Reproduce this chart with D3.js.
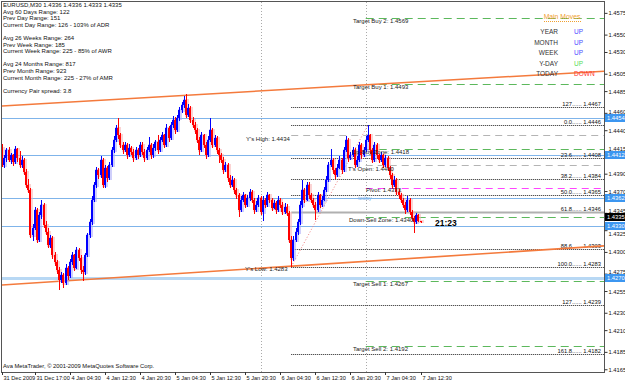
<!DOCTYPE html>
<html>
<head>
<meta charset="utf-8">
<script src="https://cdn.jsdelivr.net/npm/d3@7"></script>
<style>
  body { margin: 0; background: #fff; }
  svg text { font-family: "Liberation Sans", Arial, sans-serif; }
</style>
</head>
<body>
<div id="chart"></div>
<script>
// ---- candles, EURUSD M30 ----
var opens = [
  1.4419, 1.4400, 1.4408, 1.4417, 1.4406, 1.4411, 1.4403, 1.4418, 1.4408, 1.4400,
  1.4406, 1.4392, 1.4377, 1.4371, 1.4319, 1.4328, 1.4348, 1.4314, 1.4342, 1.4354,
  1.4331, 1.4323, 1.4308, 1.4316, 1.4296, 1.4288, 1.4279, 1.4268, 1.4273, 1.4264,
  1.4282, 1.4272, 1.4288, 1.4296, 1.4282, 1.4302, 1.4293, 1.4279, 1.4277, 1.4296,
  1.4319, 1.4334, 1.4360, 1.4377, 1.4394, 1.4388, 1.4406, 1.4377, 1.4397, 1.4385,
  1.4400, 1.4417, 1.4429, 1.4443, 1.4434, 1.4423, 1.4417, 1.4423, 1.4411, 1.4420,
  1.4415, 1.4408, 1.4417, 1.4411, 1.4423, 1.4415, 1.4408, 1.4417, 1.4423, 1.4411,
  1.4420, 1.4426, 1.4417, 1.4429, 1.4434, 1.4423, 1.4443, 1.4431, 1.4446, 1.4452,
  1.4440, 1.4454, 1.4463, 1.4469, 1.4475, 1.4458, 1.4466, 1.4452, 1.4446, 1.4440,
  1.4429, 1.4417, 1.4434, 1.4423, 1.4411, 1.4429, 1.4440, 1.4423, 1.4431, 1.4417,
  1.4411, 1.4406, 1.4394, 1.4400, 1.4385, 1.4377, 1.4383, 1.4371, 1.4365, 1.4348,
  1.4360, 1.4365, 1.4354, 1.4362, 1.4369, 1.4360, 1.4348, 1.4354, 1.4362, 1.4346,
  1.4360, 1.4354, 1.4365, 1.4360, 1.4351, 1.4356, 1.4348, 1.4360, 1.4354, 1.4346,
  1.4352, 1.4345, 1.4314, 1.4293, 1.4314, 1.4323, 1.4334, 1.4354, 1.4371, 1.4360,
  1.4377, 1.4365, 1.4360, 1.4354, 1.4348, 1.4365, 1.4354, 1.4360, 1.4371, 1.4383,
  1.4400, 1.4406, 1.4394, 1.4388, 1.4397, 1.4406, 1.4394, 1.4417, 1.4429, 1.4408,
  1.4411, 1.4417, 1.4400, 1.4406, 1.4423, 1.4411, 1.4417, 1.4429, 1.4434, 1.4417,
  1.4406, 1.4423, 1.4411, 1.4406, 1.4411, 1.4400, 1.4408, 1.4397, 1.4388, 1.4377,
  1.4383, 1.4369, 1.4365, 1.4360, 1.4354, 1.4348, 1.4360, 1.4346, 1.4339, 1.4334,
  1.4342, 1.4336
];
var highs = [
  1.4424, 1.4412, 1.4420, 1.4421, 1.4414, 1.4413, 1.4422, 1.4420, 1.4416, 1.4410,
  1.4408, 1.4395, 1.4384, 1.4373, 1.4332, 1.4352, 1.4350, 1.4346, 1.4360, 1.4356,
  1.4336, 1.4328, 1.4320, 1.4318, 1.4300, 1.4291, 1.4283, 1.4277, 1.4276, 1.4286,
  1.4284, 1.4292, 1.4300, 1.4298, 1.4306, 1.4304, 1.4296, 1.4284, 1.4299, 1.4322,
  1.4338, 1.4364, 1.4381, 1.4398, 1.4397, 1.4410, 1.4408, 1.4400, 1.4399, 1.4404,
  1.4421, 1.4433, 1.4446, 1.4454, 1.4437, 1.4426, 1.4427, 1.4425, 1.4424, 1.4422,
  1.4418, 1.4421, 1.4419, 1.4427, 1.4426, 1.4418, 1.4421, 1.4432, 1.4425, 1.4424,
  1.4429, 1.4435, 1.4432, 1.4438, 1.4436, 1.4447, 1.4445, 1.4450, 1.4456, 1.4455,
  1.4458, 1.4467, 1.4473, 1.4479, 1.4482, 1.4470, 1.4468, 1.4455, 1.4449, 1.4443,
  1.4432, 1.4438, 1.4436, 1.4426, 1.4433, 1.4454, 1.4443, 1.4435, 1.4433, 1.4420,
  1.4414, 1.4409, 1.4404, 1.4402, 1.4388, 1.4387, 1.4385, 1.4374, 1.4368, 1.4364,
  1.4369, 1.4367, 1.4366, 1.4372, 1.4371, 1.4362, 1.4358, 1.4366, 1.4364, 1.4364,
  1.4362, 1.4369, 1.4367, 1.4362, 1.4360, 1.4358, 1.4364, 1.4362, 1.4357, 1.4356,
  1.4355, 1.4347, 1.4318, 1.4318, 1.4327, 1.4338, 1.4358, 1.4383, 1.4374, 1.4381,
  1.4380, 1.4368, 1.4362, 1.4357, 1.4369, 1.4367, 1.4364, 1.4375, 1.4387, 1.4404,
  1.4418, 1.4408, 1.4397, 1.4401, 1.4410, 1.4408, 1.4421, 1.4433, 1.4431, 1.4415,
  1.4421, 1.4419, 1.4410, 1.4427, 1.4425, 1.4421, 1.4433, 1.4446, 1.4436, 1.4419,
  1.4427, 1.4425, 1.4413, 1.4415, 1.4413, 1.4412, 1.4410, 1.4399, 1.4391, 1.4387,
  1.4385, 1.4372, 1.4368, 1.4362, 1.4357, 1.4364, 1.4362, 1.4348, 1.4341, 1.4345,
  1.4344, 1.4336
];
var lows = [
  1.4398, 1.4396, 1.4404, 1.4403, 1.4401, 1.4399, 1.4401, 1.4404, 1.4397, 1.4396,
  1.4388, 1.4374, 1.4368, 1.4316, 1.4312, 1.4325, 1.4310, 1.4311, 1.4338, 1.4327,
  1.4319, 1.4304, 1.4305, 1.4292, 1.4284, 1.4275, 1.4256, 1.4264, 1.4259, 1.4262,
  1.4268, 1.4270, 1.4285, 1.4278, 1.4280, 1.4289, 1.4275, 1.4267, 1.4274, 1.4294,
  1.4316, 1.4331, 1.4357, 1.4373, 1.4384, 1.4385, 1.4373, 1.4374, 1.4381, 1.4383,
  1.4398, 1.4414, 1.4426, 1.4430, 1.4419, 1.4413, 1.4415, 1.4407, 1.4409, 1.4411,
  1.4404, 1.4406, 1.4407, 1.4409, 1.4411, 1.4404, 1.4406, 1.4415, 1.4407, 1.4408,
  1.4416, 1.4413, 1.4415, 1.4426, 1.4419, 1.4421, 1.4427, 1.4429, 1.4443, 1.4436,
  1.4438, 1.4451, 1.4460, 1.4465, 1.4454, 1.4455, 1.4448, 1.4442, 1.4436, 1.4425,
  1.4411, 1.4415, 1.4419, 1.4407, 1.4409, 1.4427, 1.4419, 1.4421, 1.4413, 1.4402,
  1.4402, 1.4390, 1.4392, 1.4381, 1.4373, 1.4375, 1.4367, 1.4361, 1.4340, 1.4346,
  1.4357, 1.4350, 1.4352, 1.4359, 1.4356, 1.4344, 1.4346, 1.4352, 1.4342, 1.4336,
  1.4350, 1.4352, 1.4356, 1.4347, 1.4349, 1.4344, 1.4346, 1.4350, 1.4342, 1.4344,
  1.4341, 1.4310, 1.4283, 1.4290, 1.4311, 1.4320, 1.4331, 1.4351, 1.4356, 1.4358,
  1.4361, 1.4356, 1.4350, 1.4337, 1.4346, 1.4350, 1.4352, 1.4358, 1.4369, 1.4381,
  1.4398, 1.4390, 1.4384, 1.4386, 1.4395, 1.4390, 1.4392, 1.4415, 1.4404, 1.4406,
  1.4409, 1.4396, 1.4398, 1.4404, 1.4407, 1.4409, 1.4415, 1.4426, 1.4413, 1.4402,
  1.4404, 1.4407, 1.4402, 1.4404, 1.4396, 1.4398, 1.4393, 1.4384, 1.4373, 1.4375,
  1.4365, 1.4361, 1.4356, 1.4350, 1.4344, 1.4346, 1.4342, 1.4335, 1.4322, 1.4332,
  1.4334, 1.4333
];
var closes = [
  1.4400, 1.4408, 1.4417, 1.4406, 1.4411, 1.4403, 1.4418, 1.4408, 1.4400, 1.4406,
  1.4392, 1.4377, 1.4371, 1.4319, 1.4328, 1.4348, 1.4314, 1.4342, 1.4354, 1.4331,
  1.4323, 1.4308, 1.4316, 1.4296, 1.4288, 1.4279, 1.4268, 1.4273, 1.4264, 1.4282,
  1.4272, 1.4288, 1.4296, 1.4282, 1.4302, 1.4293, 1.4279, 1.4277, 1.4296, 1.4319,
  1.4334, 1.4360, 1.4377, 1.4394, 1.4388, 1.4406, 1.4377, 1.4397, 1.4385, 1.4400,
  1.4417, 1.4429, 1.4443, 1.4434, 1.4423, 1.4417, 1.4423, 1.4411, 1.4420, 1.4415,
  1.4408, 1.4417, 1.4411, 1.4423, 1.4415, 1.4408, 1.4417, 1.4423, 1.4411, 1.4420,
  1.4426, 1.4417, 1.4429, 1.4434, 1.4423, 1.4443, 1.4431, 1.4446, 1.4452, 1.4440,
  1.4454, 1.4463, 1.4469, 1.4475, 1.4458, 1.4466, 1.4452, 1.4446, 1.4440, 1.4429,
  1.4417, 1.4434, 1.4423, 1.4411, 1.4429, 1.4440, 1.4423, 1.4431, 1.4417, 1.4411,
  1.4406, 1.4394, 1.4400, 1.4385, 1.4377, 1.4383, 1.4371, 1.4365, 1.4348, 1.4360,
  1.4365, 1.4354, 1.4362, 1.4369, 1.4360, 1.4348, 1.4354, 1.4362, 1.4346, 1.4360,
  1.4354, 1.4365, 1.4360, 1.4351, 1.4356, 1.4348, 1.4360, 1.4354, 1.4346, 1.4352,
  1.4345, 1.4314, 1.4293, 1.4314, 1.4323, 1.4334, 1.4354, 1.4371, 1.4360, 1.4377,
  1.4365, 1.4360, 1.4354, 1.4348, 1.4365, 1.4354, 1.4360, 1.4371, 1.4383, 1.4400,
  1.4406, 1.4394, 1.4388, 1.4397, 1.4406, 1.4394, 1.4417, 1.4429, 1.4408, 1.4411,
  1.4417, 1.4400, 1.4406, 1.4423, 1.4411, 1.4417, 1.4429, 1.4434, 1.4417, 1.4406,
  1.4423, 1.4411, 1.4406, 1.4411, 1.4400, 1.4408, 1.4397, 1.4388, 1.4377, 1.4383,
  1.4369, 1.4365, 1.4360, 1.4354, 1.4348, 1.4360, 1.4346, 1.4339, 1.4334, 1.4342,
  1.4336, 1.4335
];

var timeLabels = ["31 Dec 2009", "31 Dec 17:00", "4 Jan 04:30", "4 Jan 12:30", "4 Jan 20:30",
  "5 Jan 04:30", "5 Jan 12:30", "5 Jan 20:30", "6 Jan 04:30", "6 Jan 12:30",
  "6 Jan 20:30", "7 Jan 04:30", "7 Jan 12:30"];
var timeLabelBars = [0, 15, 31, 47, 63, 79, 95, 111, 127, 143, 159, 175, 191];
var daySeparators = [118, 166];

var priceTicks = [1.4575, 1.4550, 1.4530, 1.4505, 1.4485, 1.4460, 1.4440, 1.4415, 1.4390,
  1.4370, 1.4345, 1.4325, 1.4300, 1.4275, 1.4255, 1.4230, 1.4210, 1.4185, 1.4165];

var blueLevels = [1.4454, 1.4412, 1.4362, 1.4330, 1.4270];
var fibNames = ["127", "0.0", "23.6", "38.2", "50.0", "61.8", "88.6", "100.0", "127", "161.8"];
var fibValues = [1.4467, 1.4446, 1.4408, 1.4384, 1.4365, 1.4346, 1.4303, 1.4283, 1.4239, 1.4182];

var targetNames = ["Target Buy 2", "Target Buy 1", "Up-Buy Zone", "Down-Sell Zone", "Target Sell 1", "Target Sell 2"];
var targetValues = [1.4569, 1.4493, 1.4418, 1.4340, 1.4267, 1.4192];

var infoLines = ["EURUSD,M30  1.4336 1.4336 1.4333 1.4335", "Avg 60 Days Range: 122",
  "Prev Day Range: 151", "Current Day Range: 126 - 103% of ADR", "",
  "Avg 26 Weeks Range: 264", "Prev Week Range: 185", "Current Week Range: 225 - 85% of AWR", "",
  "Avg 24 Months Range: 817", "Prev Month Range: 923", "Current Month Range: 225 - 27% of AMR", "",
  "Currency Pair spread: 3.8"];

var moveNames = ["YEAR", "MONTH", "WEEK", "Y-DAY", "TODAY"];
var moveDirs = ["UP", "UP", "UP", "UP", "DOWN"];

// trend lines as [bar, price] anchors
var upperTrend = [[0, 1.4468], [275, 1.4508]];
var lowerTrend = [[0, 1.4262], [275, 1.4307]];
var fibDiagonal = [[132, 1.4283], [167, 1.4446]];

// ---- layout ----
var w = 625, h = 381;
var padL = 2, padT = 2, padR = 604, padB = 372;

var svg = d3.select("#chart").append("svg")
  .attr("width", w).attr("height", h);

var x = d3.scaleLinear().domain([0, 191]).range([2, 420.5]);
var y = d3.scaleLinear().domain([1.4186, 1.4446]).range([351, 125]);

svg.append("clipPath").attr("id", "clip")
  .append("rect").attr("x", padL).attr("y", padT)
  .attr("width", padR - padL).attr("height", padB - padT);

var plot = svg.append("g").attr("clip-path", "url(#clip)");

function hy(v) { return Math.round(y(v)) + 0.5; }

// day separators
plot.selectAll(".sep").data(daySeparators).enter().append("line")
  .attr("x1", function(d) { return Math.round(x(d)) + 0.5; })
  .attr("x2", function(d) { return Math.round(x(d)) + 0.5; })
  .attr("y1", padT).attr("y2", padB)
  .attr("stroke", "#aaa").attr("stroke-dasharray", "1,2");

// blue horizontal levels
plot.selectAll(".blue").data(blueLevels).enter().append("line")
  .attr("x1", padL).attr("x2", padR)
  .attr("y1", hy).attr("y2", hy)
  .attr("stroke", function(d, i) { return i == 4 ? "#b8d8f4" : "#7fb4ea"; })
  .attr("stroke-width", function(d, i) { return i == 4 ? 3 : 1; });

// fib levels
var fibStart = x(132);
plot.selectAll(".fib").data(fibValues).enter().append("line")
  .attr("x1", fibStart).attr("x2", padR)
  .attr("y1", hy).attr("y2", hy)
  .attr("stroke", function(d, i) { return i == 5 ? "#b0b0b0" : "#222"; })
  .attr("stroke-width", function(d, i) { return i == 5 ? 2 : 1; })
  .attr("stroke-dasharray", function(d, i) { return i == 5 ? null : "1,1"; });

plot.selectAll(".fibtxt").data(fibValues).enter().append("text")
  .attr("x", padR - 3)
  .attr("y", function(d) { return Math.round(y(d)) - 1.5; })
  .attr("text-anchor", "end").attr("font-size", 5.8).attr("fill", "#111")
  .text(function(d, i) { return fibNames[i] + "......  " + d.toFixed(4); });

// yesterday high / today open (grey dashed)
plot.append("line").attr("x1", fibStart).attr("x2", padR)
  .attr("y1", hy(1.4434)).attr("y2", hy(1.4434))
  .attr("stroke", "#b4b4b4").attr("stroke-dasharray", "7,5");
plot.append("line").attr("x1", x(166)).attr("x2", padR)
  .attr("y1", hy(1.4400)).attr("y2", hy(1.4400))
  .attr("stroke", "#b4b4b4").attr("stroke-dasharray", "7,5");

// pivot
plot.append("line").attr("x1", x(166)).attr("x2", padR)
  .attr("y1", hy(1.4373)).attr("y2", hy(1.4373))
  .attr("stroke", "#ff44ff").attr("stroke-dasharray", "7,5");

// target lines (green dashed)
plot.selectAll(".tgt").data(targetValues).enter().append("line")
  .attr("x1", x(166)).attr("x2", padR)
  .attr("y1", hy).attr("y2", hy)
  .attr("stroke", "#5cb85c").attr("stroke-dasharray", "8,5");

// trend lines
function trend(pts, col, sw, dash) {
  var x0 = x(pts[0][0]), y0 = y(pts[0][1]), x1 = x(pts[1][0]), y1 = y(pts[1][1]);
  var k = (y1 - y0) / (x1 - x0);
  plot.append("line")
    .attr("x1", padL).attr("y1", y0 + (padL - x0) * k)
    .attr("x2", padR).attr("y2", y0 + (padR - x0) * k)
    .attr("stroke", col).attr("stroke-width", sw)
    .attr("stroke-dasharray", dash);
}
trend(upperTrend, "#f47a3c", 1.5, null);
trend(lowerTrend, "#f47a3c", 1.6, null);

plot.append("line")
  .attr("x1", x(fibDiagonal[0][0])).attr("y1", y(fibDiagonal[0][1]))
  .attr("x2", x(fibDiagonal[1][0])).attr("y2", y(fibDiagonal[1][1]))
  .attr("stroke", "#f08080").attr("stroke-dasharray", "1,2");

// candles
var bars = closes.map(function(c, i) {
  return { i: i, o: opens[i], hi: highs[i], lo: lows[i], c: c };
});
function col(d) { return d.c >= d.o ? "#0000ff" : "#ff0000"; }
function pale(d) { return d.c >= d.o ? "#a8a8f8" : "#f8b0b0"; }

var cg = plot.selectAll(".candle").data(bars).enter().append("g")
  .attr("shape-rendering", "crispEdges");
// soft halo as in the screenshot
cg.append("rect")
  .attr("x", function(d) { return Math.round(x(d.i)) - 1; })
  .attr("width", 4)
  .attr("y", function(d) { return y(Math.max(d.o, d.c)) - 1; })
  .attr("height", function(d) { return Math.max(2, y(Math.min(d.o, d.c)) - y(Math.max(d.o, d.c)) + 3); })
  .attr("fill", pale).attr("opacity", 0.55);
cg.append("rect")
  .attr("x", function(d) { return Math.round(x(d.i)); })
  .attr("width", 1)
  .attr("y", function(d) { return y(d.hi); })
  .attr("height", function(d) { return y(d.lo) - y(d.hi); })
  .attr("fill", col);
cg.append("rect")
  .attr("x", function(d) { return Math.round(x(d.i)) - 1; })
  .attr("width", 2)
  .attr("y", function(d) { return y(Math.max(d.o, d.c)); })
  .attr("height", function(d) { return Math.max(1, y(Math.min(d.o, d.c)) - y(Math.max(d.o, d.c))); })
  .attr("fill", col);

// level labels
var lbl = svg.append("g").attr("font-size", 6).attr("fill", "#222");
targetNames.forEach(function(n, i) {
  var yy = Math.round(y(targetValues[i]));
  var xx = (n.indexOf("Zone") > 0) ? (n == "Up-Buy Zone" ? 352 : 349) : 353;
  lbl.append("text").attr("x", xx).attr("y", yy + 5).text(n + ": " + targetValues[i].toFixed(4));
});
lbl.append("text").attr("x", 246).attr("y", Math.round(y(1.4434)) + 6).text("Y's High: 1.4434");
lbl.append("text").attr("x", 245).attr("y", Math.round(y(1.4283)) + 4).text("Y's Low: 1.4283");
lbl.append("text").attr("x", 348).attr("y", Math.round(y(1.4400)) + 6).text("T's Open: 1.4400");
lbl.append("text").attr("x", 366).attr("y", Math.round(y(1.4373)) + 4).text("Pivot: 1.4373");
svg.append("text").attr("x", 358).attr("y", 200).attr("font-size", 5.5)
  .attr("fill", "#7fb4ea").text("today");

// countdown
svg.append("text").attr("x", 435).attr("y", 226).attr("font-size", 8.5)
  .attr("font-weight", "bold").attr("fill", "#000").text("21:23");

// info block
svg.append("g").attr("font-size", 6).attr("fill", "#111")
  .selectAll("text").data(infoLines).enter().append("text")
  .attr("x", 3).attr("y", function(d, i) { return 7 + i * 6.6; })
  .text(function(d) { return d; });

// main moves panel
svg.append("text").attr("x", 562).attr("y", 19).attr("text-anchor", "middle")
  .attr("font-size", 6.8).attr("fill", "#f0a030").text("Main Moves");
svg.append("line").attr("x1", 544).attr("x2", 581).attr("y1", 21.5).attr("y2", 21.5)
  .attr("stroke", "#f0a030").attr("stroke-dasharray", "1,1");
moveNames.forEach(function(n, i) {
  var yy = 34 + i * 10.6;
  svg.append("text").attr("x", 558).attr("y", yy).attr("text-anchor", "end")
    .attr("font-size", 6.5).attr("fill", "#333").text(n);
  svg.append("text").attr("x", 574).attr("y", yy).attr("font-size", 6.5)
    .attr("fill", moveDirs[i] == "DOWN" ? "#ff3030" : (n == "Y-DAY" ? "#55dd55" : "#4a4aff"))
    .text(moveDirs[i]);
});

// frame
svg.append("rect").attr("x", padL - 0.5).attr("y", padT - 0.5)
  .attr("width", padR - padL + 1).attr("height", padB - padT + 1)
  .attr("fill", "none").attr("stroke", "#555");

svg.append("text").attr("x", 3).attr("y", 368).attr("font-size", 5.8).attr("fill", "#111")
  .text("Ava MetaTrader, \u00a9 2001-2009 MetaQuotes Software Corp.");

// price tags on the axis, pushed apart like the terminal does
var tags = blueLevels.map(function(v) { return { v: v, bg: "#3c96f0" }; });
tags.push({ v: closes[closes.length - 1], bg: "#000" });
tags.forEach(function(t) { t.yy = Math.round(y(t.v)); });
tags.sort(function(a, b) { return b.yy - a.yy; });
for (var k = 1; k < tags.length; k++) {
  if (tags[k - 1].yy - tags[k].yy < 9) tags[k].yy = tags[k - 1].yy - 9;
}

// price axis; a label hidden under a tag is nudged clear of it
var yAxis = d3.axisRight(y).tickValues(priceTicks).tickSize(3)
  .tickFormat(function(d) { return d.toFixed(4); });
var ya = svg.append("g").attr("transform", "translate(" + (padR + 0.5) + ",0)").call(yAxis);
ya.select(".domain").remove();
ya.selectAll("line").attr("stroke", "#333");
ya.selectAll("text").attr("font-size", 5.8).attr("fill", "#111").attr("x", 4)
  .attr("font-family", "Liberation Sans, Arial, sans-serif")
  .attr("dy", function(d) {
    var ty = y(d), shift = 0;
    tags.forEach(function(t) {
      var dd = ty - t.yy;
      if (Math.abs(dd) < 7) shift = dd < 0 ? -(7 + dd) : (7 - dd);
    });
    return (shift + 2) + "px";
  });

tags.forEach(function(t) {
  svg.append("rect").attr("x", 605).attr("y", t.yy - 4).attr("width", 20).attr("height", 8).attr("fill", t.bg);
  svg.append("text").attr("x", 607).attr("y", t.yy + 2.2).attr("font-size", 5.8).attr("fill", "#fff").text(t.v.toFixed(4));
});

// time axis
var ta = svg.append("g");
timeLabelBars.forEach(function(b, i) {
  var xx = Math.round(x(b)) + 0.5;
  ta.append("line").attr("x1", xx).attr("x2", xx).attr("y1", padB).attr("y2", padB + 3).attr("stroke", "#333");
  ta.append("text").attr("x", xx + 1).attr("y", 380).attr("font-size", 5.6).attr("fill", "#111").text(timeLabels[i]);
});
</script>
</body>
</html>
